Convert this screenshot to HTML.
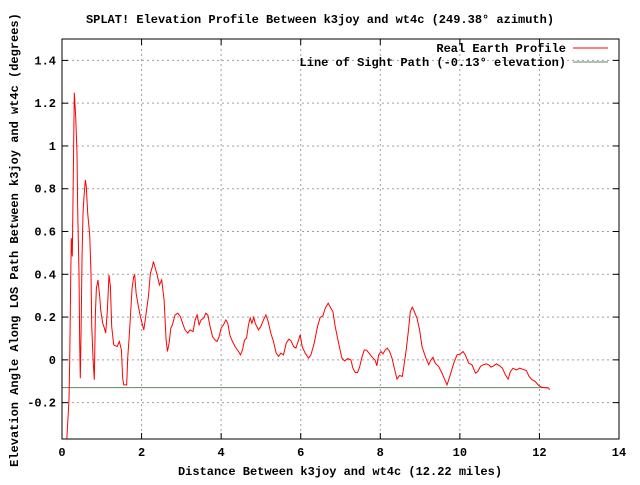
<!DOCTYPE html>
<html><head><meta charset="utf-8"><style>
body{margin:0;background:#fff}
svg text{font-family:"Liberation Mono","DejaVu Sans Mono",monospace;font-size:12px;font-weight:bold;fill:#000}
</style></head><body>
<svg id="chart" width="640" height="480" xmlns="http://www.w3.org/2000/svg">
<rect width="640" height="480" fill="#fff"/>
<text x="320" y="23" text-anchor="middle">SPLAT! Elevation Profile Between k3joy and wt4c (249.38° azimuth)</text>
<text x="340" y="475" text-anchor="middle">Distance Between k3joy and wt4c (12.22 miles)</text>
<text transform="translate(18,240) rotate(-90)" text-anchor="middle">Elevation Angle Along LOS Path Between k3joy and wt4c (degrees)</text>
<g id="grid"></g><g id="ticks"></g>
<g id="series"></g>
<rect x="62" y="39" width="557" height="400" fill="none" stroke="#000" stroke-width="1"/>
<g>
<text x="566" y="52" text-anchor="end">Real Earth Profile</text>
<line x1="573" y1="48" x2="608" y2="48" stroke="#f00"/>
<text x="566" y="66" text-anchor="end">Line of Sight Path (-0.13° elevation)</text>
<line x1="573" y1="62" x2="608" y2="62" stroke="#5a8a5a"/>
</g>
</svg>
<script>
const xTicks=[0,2,4,6,8,10,12,14];
const yTicks=[-0.2,0,0.2,0.4,0.6,0.8,1,1.2,1.4];
const yTickLabels=["-0.2","0","0.2","0.4","0.6","0.8","1","1.2","1.4"];
const losElevation=-0.13;
const losEnd=12.22;
const distance=[0.12,0.176,0.193,0.218,0.235,0.260,0.285,0.310,0.344,0.377,0.394,0.428,0.444,0.461,0.478,0.503,0.528,0.553,0.587,0.612,0.646,0.696,0.730,0.746,0.780,0.813,0.839,0.864,0.906,0.948,0.973,1.023,1.065,1.099,1.141,1.182,1.216,1.250,1.300,1.384,1.442,1.493,1.526,1.551,1.627,1.652,1.686,1.719,1.761,1.803,1.828,1.862,1.920,1.971,2.055,2.105,2.172,2.222,2.272,2.298,2.381,2.449,2.507,2.566,2.616,2.650,2.692,2.734,2.776,2.843,2.910,2.977,3.044,3.094,3.161,3.220,3.295,3.346,3.396,3.446,3.497,3.564,3.614,3.664,3.723,3.782,3.849,3.899,3.950,4.000,4.059,4.117,4.168,4.218,4.268,4.352,4.436,4.486,4.537,4.587,4.637,4.688,4.730,4.772,4.822,
4.855,4.939,4.998,5.065,5.124,5.182,5.249,5.317,5.384,5.442,5.501,5.568,5.635,5.702,5.753,5.820,5.878,5.946,5.987,6.038,6.113,6.197,6.256,6.340,6.423,6.491,6.558,6.616,6.692,6.759,6.809,6.868,6.952,7.035,7.103,7.178,7.262,7.312,7.371,7.430,7.480,7.539,7.597,7.664,7.731,7.799,7.866,7.916,7.958,8.017,8.067,8.126,8.176,8.235,8.294,8.352,8.419,8.486,8.553,8.587,8.646,8.713,8.755,8.805,8.855,8.922,8.989,9.048,9.132,9.216,9.275,9.325,9.384,9.467,9.551,9.677,9.761,9.845,9.929,10.013,10.080,10.138,10.222,10.306,10.390,10.449,10.516,10.583,10.667,10.725,10.784,10.851,10.918,11.002,11.069,11.145,11.212,11.270,11.338,11.421,11.505,11.589,11.673,11.740,11.816,11.899,11.983,12.067,12.235,12.252];
const elevation=[-0.40,-0.187,-0.008,0.374,0.569,0.483,0.864,1.249,1.137,0.966,0.701,0.405,0.078,-0.086,0.109,0.467,0.685,0.763,0.841,0.810,0.685,0.584,0.405,0.164,0.008,-0.093,0.218,0.335,0.374,0.296,0.234,0.171,0.148,0.125,0.234,0.397,0.343,0.156,0.070,0.062,0.086,0.047,-0.086,-0.117,-0.117,0.008,0.101,0.202,0.335,0.389,0.397,0.312,0.249,0.202,0.140,0.202,0.296,0.405,0.436,0.460,0.405,0.350,0.374,0.280,0.093,0.039,0.078,0.148,0.164,0.210,0.218,0.202,0.164,0.140,0.125,0.140,0.132,0.187,0.210,0.164,0.187,0.195,0.218,0.210,0.156,0.109,0.093,0.086,0.109,0.148,0.164,0.187,0.171,0.117,0.093,0.062,0.039,0.023,0.047,0.093,0.101,0.164,0.195,0.171,0.199,
0.171,0.140,0.156,0.187,0.210,0.179,0.125,0.086,0.031,0.016,0.031,0.023,0.078,0.097,0.090,0.062,0.055,0.093,0.117,0.062,0.031,0.008,0.023,0.078,0.156,0.199,0.206,0.241,0.265,0.241,0.226,0.156,0.078,0.008,-0.005,0.006,0,-0.039,-0.059,-0.059,-0.034,0.012,0.047,0.044,0.028,0.012,0,-0.028,0.023,0.039,0.028,0.047,0.055,0.039,0.008,-0.039,-0.090,-0.073,-0.078,-0.039,0.039,0.148,0.226,0.246,0.226,0.195,0.140,0.062,0.016,-0.023,0,0.012,-0.016,-0.031,-0.062,-0.117,-0.070,-0.016,0.023,0.028,0.039,0.023,-0.016,-0.023,-0.062,-0.055,-0.031,-0.023,-0.019,-0.023,-0.034,-0.028,-0.019,-0.028,-0.039,-0.070,-0.090,-0.055,-0.039,-0.047,-0.039,-0.044,-0.050,-0.078,-0.093,-0.101,-0.121,-0.129,-0.132,-0.140];
const X0=62,X1=619,Y0=439,Y1=39,xMin=0,xMax=14,yMin=-0.37,yMax=1.5;
const sx=v=>X0+(v-xMin)/(xMax-xMin)*(X1-X0);
const sy=v=>Y0-(v-yMin)/(yMax-yMin)*(Y0-Y1);
const NS="http://www.w3.org/2000/svg";
const mk=(t,a,p)=>{const e=document.createElementNS(NS,t);for(const k in a)e.setAttribute(k,a[k]);p.appendChild(e);return e;};
const grid=document.getElementById('grid'),ticks=document.getElementById('ticks'),series=document.getElementById('series');
xTicks.forEach((t,i)=>{const x=sx(t);
 if(i>0&&i<xTicks.length-1){const g=mk('line',{x1:x,y1:Y1,x2:x,y2:Y0,stroke:'#a0a0a0','stroke-dasharray':'2,3'},grid);
 
 }
 mk('line',{x1:x,y1:Y0,x2:x,y2:Y0-6,stroke:'#000'},ticks);mk('line',{x1:x,y1:Y1,x2:x,y2:Y1+6,stroke:'#000'},ticks);
 const l=mk('text',{x:x,y:Y0+17,'text-anchor':'middle'},ticks);l.textContent=t;
 
 });
yTicks.forEach((t,i)=>{const y=sy(t);
 const g=mk('line',{x1:X0,y1:y,x2:X1,y2:y,stroke:'#a0a0a0','stroke-dasharray':'2,3'},grid);
 
 
 mk('line',{x1:X0,y1:y,x2:X0+6,y2:y,stroke:'#000'},ticks);mk('line',{x1:X1,y1:y,x2:X1-6,y2:y,stroke:'#000'},ticks);
 const l=mk('text',{x:X0-6,y:y+4,'text-anchor':'end'},ticks);l.textContent=yTickLabels[i];
 
 });
const los=mk('line',{x1:X0,y1:sy(losElevation),x2:sx(losEnd),y2:sy(losElevation),stroke:'#5a8a5a'},series);


const pts=distance.map((d,i)=>sx(d).toFixed(1)+','+Math.min(Y0,sy(elevation[i])).toFixed(1)).join(' ');
const prof=mk('polyline',{points:pts,fill:'none',stroke:'#f00','stroke-width':1},series);


</script>
</body></html>
